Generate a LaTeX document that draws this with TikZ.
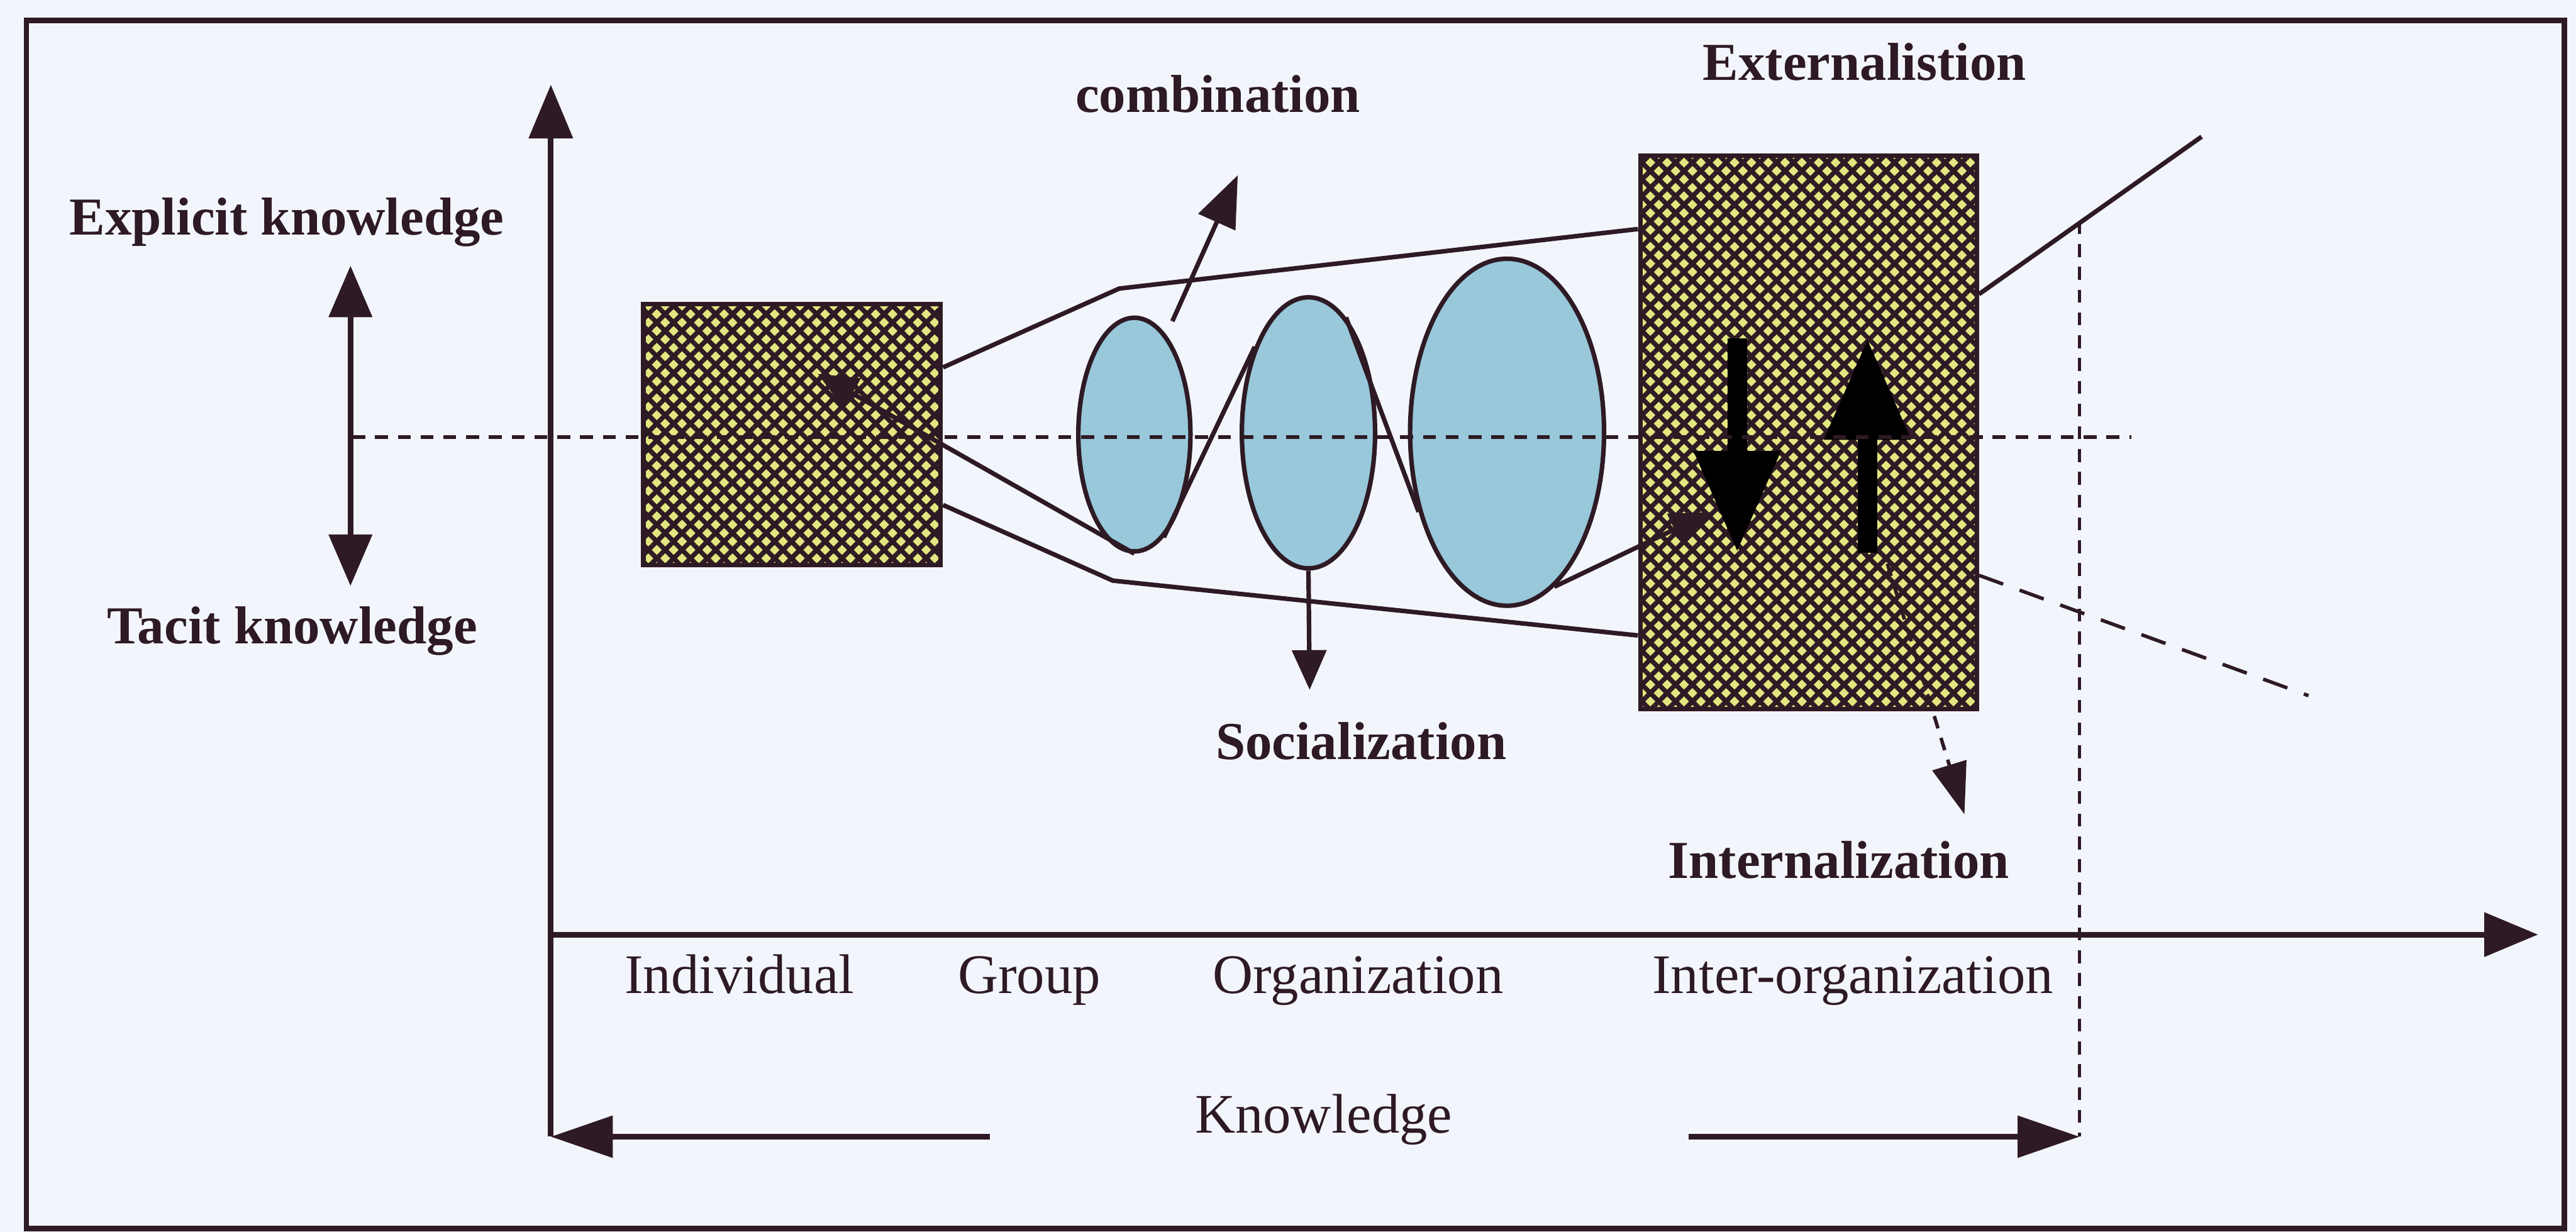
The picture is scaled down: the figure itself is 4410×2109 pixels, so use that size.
\documentclass[tikz,border=0pt]{standalone}
\usepackage{fontspec}
\setmainfont{Liberation Serif}
\usepackage{tikz}
\usetikzlibrary{positioning,arrows.meta,shapes.geometric,patterns.meta}

\definecolor{ink}{RGB}{46,26,36}
\definecolor{paper}{RGB}{243,245,252}
\definecolor{hatchyellow}{RGB}{226,230,128}
\definecolor{bubbleblue}{RGB}{152,200,218}

\begin{document}
\begin{tikzpicture}[
    x=0.05mm, y=-0.05mm,
    box/.style={
        draw=ink,
        line width=1.1pt,
        rectangle,
        inner sep=0pt,
        preaction={fill=hatchyellow},
        preaction={pattern color=ink, pattern={Lines[angle=45,distance=2.9pt,line width=1.15pt]}},
        preaction={pattern color=ink, pattern={Lines[angle=-45,distance=2.9pt,line width=1.15pt]}}
    },
    bubble/.style={
        draw=ink,
        line width=1.1pt,
        ellipse,
        fill=bubbleblue,
        inner sep=0pt
    },
    boldtext/.style={font=\fontsize{13}{15}\selectfont\bfseries, text=ink, anchor=base, inner sep=0pt},
    plaintext/.style={font=\fontsize{13.6}{16}\selectfont, text=ink, anchor=base, inner sep=0pt},
    wire/.style={draw=ink, line width=1.1pt},
    dashline/.style={draw=ink, line width=0.85pt, dash pattern=on 1.1mm off 0.85mm},
    axis/.style={draw=ink, line width=1.4pt, -{Triangle[length=4.6mm,width=3.7mm]}},
    twoway/.style={draw=ink, line width=1.3pt, {Triangle[length=4.4mm,width=3.65mm]}-{Triangle[length=4.4mm,width=3.65mm]}},
    arrow/.style={draw=ink, line width=1.1pt, -{Triangle[length=4.4mm,width=3.4mm]}},
    smallarrow/.style={draw=ink, line width=1.1pt, -{Triangle[length=3.4mm,width=2.9mm]}},
    bigarrow/.style={draw=black, line width=4.7pt, -{Triangle[length=8.7mm,width=7mm]}},
    widearrow/.style={draw=ink, line width=1.4pt, -{Triangle[length=5.3mm,width=3.5mm]}}
]

% page and frame
\fill[paper] (0,0) rectangle (4410,2109);
\useasboundingbox (0,0) rectangle (4410,2109);
\draw[ink, line width=1.3pt] (45,35) rectangle (4390,2103);

% axes
\coordinate (ybot) at (943,1946);
\coordinate (ytop) at (943,145);
\coordinate (xorg) at (943,1600);
\coordinate (xend) at (4345,1600);
\draw[axis] (ybot) -- (ytop);
\draw[axis] (xorg) -- (xend);

% explicit / tacit
\node[boldtext] (explicit) at (491,402) {Explicit knowledge};
\node[boldtext] (tacit) at (500,1102) {Tacit knowledge};
\coordinate (kup) at (600,455);
\coordinate (kdown) at (600,1003);
\draw[twoway] (kup) -- (kdown);

% boxes and spiral stages
\node[box, minimum width=25.45mm, minimum height=22.3mm] (indiv) at (1356,744) {};
\node[bubble, minimum width=9.6mm, minimum height=20mm] (sp1) at (1942,744) {};
\node[bubble, minimum width=11.4mm, minimum height=23.2mm] (sp2) at (2240,741) {};
\node[bubble, minimum width=16.6mm, minimum height=29.7mm] (sp3) at (2580,740) {};
\node[box, minimum width=28.8mm, minimum height=47.35mm] (inter) at (3096,740) {};

% funnel
\coordinate (fup) at (1916,494);
\coordinate (flow) at (1905,994);
\draw[wire] (indiv.24) -- (fup) -- (inter.130);
\draw[wire] (indiv.-25) -- (flow) -- (inter.230);

% widening beyond
\coordinate (divup) at (3769,234);
\coordinate (divlow) at (3952,1191);
\draw[wire] (inter.39) -- (divup);
\draw[draw=ink, line width=0.85pt, dash pattern=on 2.2mm off 1.5mm] (inter.-40) -- (divlow);

% spiral
\coordinate (tipA) at (1400,640);
\coordinate (tipB) at (2928,877);
\draw[smallarrow] (sp1.south) -- (tipA);
\draw[wire] (sp1.-74) -- (sp2.122);
\draw[wire] (sp2.72) -- (sp3.222);
\draw[smallarrow] (sp3.-73) -- (tipB);

% combination
\node[boldtext] (comb) at (2085,192) {combination};
\coordinate (combS) at (2007,550);
\coordinate (combE) at (2119,300);
\draw[arrow] (combS) -- (combE);

% externalisation / internalisation inside
\node[boldtext] (ext) at (3192,137) {Externalistion};
\coordinate (extS) at (2974,579);
\coordinate (extE) at (2974,946);
\coordinate (intS) at (3197,946);
\coordinate (intE) at (3197,579);
\draw[bigarrow] (extS) -- (extE);
\draw[bigarrow] (intS) -- (intE);

% socialization
\node[boldtext] (soc) at (2330,1300) {Socialization};
\coordinate (socE) at (2242,1181);
\draw[smallarrow] (sp2.south) -- (socE);

% internalization
\node[boldtext] (inl) at (3148,1504) {Internalization};
\coordinate (inS) at (3231,965);
\coordinate (inE) at (3363,1394);
\draw[dashline, -{Triangle[length=4.4mm,width=3mm]}] (inS) -- (inE);

% middle line
\coordinate (midL) at (603,748);
\coordinate (midR) at (3649,748);
\draw[dashline] (midL) -- (midR);

% levels
\node[plaintext] (lvind) at (1266,1701) {Individual};
\node[plaintext] (lvgrp) at (1762,1701) {Group};
\node[plaintext] (lvorg) at (2325,1701) {Organization};
\node[plaintext] (lvint) at (3172,1701) {Inter-organization};

% knowledge
\node[plaintext] (know) at (2266,1940) {Knowledge};
\coordinate (kL) at (1695,1946);
\coordinate (kR) at (2891,1946);
\coordinate (kE) at (3560,1946);
\coordinate (vtop) at (3560,379);
\draw[widearrow] (kL) -- (ybot);
\draw[widearrow] (kR) -- (kE);
\draw[dashline] (vtop) -- (kE);

\end{tikzpicture}
\end{document}
